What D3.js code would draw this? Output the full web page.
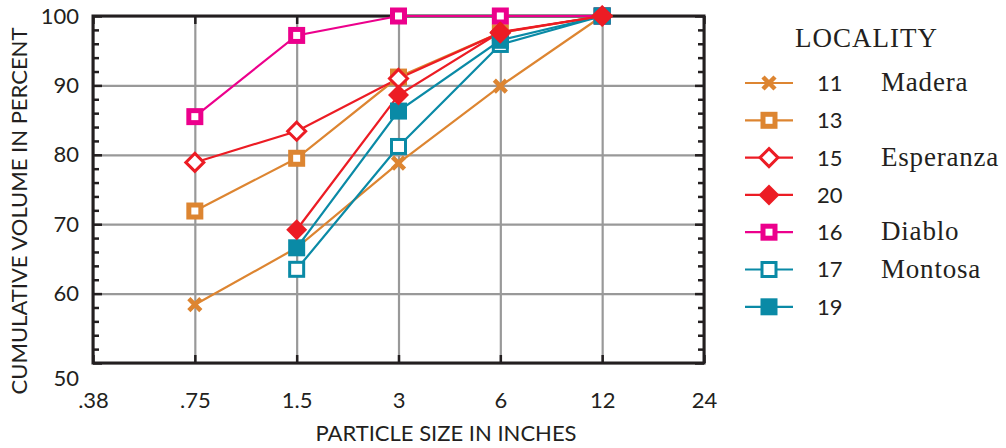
<!DOCTYPE html>
<html>
<head>
<meta charset="utf-8">
<script src="https://cdn.jsdelivr.net/npm/d3@7"></script>
<style>
  body { margin: 0; background: #fff; }
  svg { display: block; }
</style>
</head>
<body>
<div id="chart"></div>
<script>
// particle size categories (inches)
const sizes = [".38", ".75", "1.5", "3", "6", "12", "24"];
const yTicks = [50, 60, 70, 80, 90, 100];

// cumulative volume per locality, null = not measured
const loc11 = [null, 58.4, 66.6, 78.8, 89.9, 100, null];
const loc13 = [null, 71.9, 79.5, 91.2, 97.6, 100, null];
const loc15 = [null, 78.9, 83.4, 91.0, 97.6, 100, null];
const loc20 = [null, null, 69.2, 88.6, 97.7, 100, null];
const loc16 = [null, 85.5, 97.2, 100, 100, 100, null];
const loc17 = [null, null, 63.5, 81.2, 95.9, 100, null];
const loc19 = [null, null, 66.6, 86.3, 96.5, 100, null];

const series = [
  { id: "11", name: "Madera", values: loc11, color: "#dd8531", shape: "x" },
  { id: "13", name: "", values: loc13, color: "#dd8531", shape: "sqThick" },
  { id: "15", name: "Esperanza", values: loc15, color: "#ec1c24", shape: "diamondOpen" },
  { id: "20", name: "", values: loc20, color: "#ec1c24", shape: "diamondFill" },
  { id: "16", name: "Diablo", values: loc16, color: "#ec008c", shape: "sqThick" },
  { id: "17", name: "Montosa", values: loc17, color: "#0a8aa6", shape: "sqOpen" },
  { id: "19", name: "", values: loc19, color: "#0a8aa6", shape: "sqFill" }
];
// which sits on top
const drawOrder = ["11", "13", "16", "17", "19", "15", "20"];

const W = 1006, H = 448;
const margin = { top: 16, right: 302, bottom: 85, left: 93 };
const width = W - margin.left - margin.right,
  height = H - margin.top - margin.bottom;

const svg = d3.select("#chart").append("svg")
  .attr("width", W).attr("height", H);

const g = svg.append("g")
  .attr("transform", "translate(" + margin.left + "," + margin.top + ")");

const x = d3.scalePoint().domain(sizes).range([0, width]);
const y = d3.scaleLinear().domain([50, 100]).range([height, 0]);

const numFont = "Lato, 'Open Sans', sans-serif";
const serifFont = "'Liberation Serif', 'DejaVu Serif', serif";
const ink = "#231f20";

// grid
g.append("g")
  .call(d3.axisBottom(x).tickSize(height).tickFormat(""))
  .call(s => s.select(".domain").remove())
  .selectAll("line").attr("stroke", "#999").attr("stroke-width", 2.2);
g.append("g")
  .call(d3.axisLeft(y).tickValues(yTicks).tickSize(-width).tickFormat(""))
  .call(s => s.select(".domain").remove())
  .selectAll("line").attr("stroke", "#999").attr("stroke-width", 2.2);

// inward ticks on the frame
const minor = d3.range(50, 101, 2);
g.append("g")
  .call(d3.axisRight(y).tickValues(minor).tickSize(6).tickFormat(""))
  .call(s => s.select(".domain").remove())
  .selectAll("line").attr("stroke", ink).attr("stroke-width", 2.5)
  .attr("x2", d => d % 10 === 0 ? 9 : 6);
g.append("g")
  .attr("transform", "translate(" + width + ",0)")
  .call(d3.axisLeft(y).tickValues(minor).tickSize(6).tickFormat(""))
  .call(s => s.select(".domain").remove())
  .selectAll("line").attr("stroke", ink).attr("stroke-width", 2.5)
  .attr("x2", d => d % 10 === 0 ? -9 : -6);
g.append("g")
  .call(d3.axisBottom(x).tickSize(8).tickFormat(""))
  .call(s => s.select(".domain").remove())
  .selectAll("line").attr("stroke", ink).attr("stroke-width", 2.5);
g.append("g")
  .attr("transform", "translate(0," + height + ")")
  .call(d3.axisTop(x).tickSize(8).tickFormat(""))
  .call(s => s.select(".domain").remove())
  .selectAll("line").attr("stroke", ink).attr("stroke-width", 2.5);

g.append("rect")
  .attr("width", width).attr("height", height)
  .attr("fill", "none").attr("stroke", ink).attr("stroke-width", 3);

// tick labels
g.append("g")
  .attr("transform", "translate(0," + height + ")")
  .call(d3.axisBottom(x).tickSize(0).tickPadding(29))
  .call(s => s.select(".domain").remove())
  .selectAll("text")
  .attr("font-family", numFont).attr("font-size", 22).attr("fill", ink);

g.append("g")
  .call(d3.axisLeft(y).tickValues(yTicks).tickSize(0).tickPadding(14))
  .call(s => s.select(".domain").remove())
  .selectAll("text")
  .attr("font-family", numFont).attr("font-size", 22).attr("fill", ink)
  .attr("dy", d => d === 50 ? "1.0em" : "0.32em");

// axis titles
svg.append("text")
  .attr("x", 446).attr("y", 441)
  .attr("text-anchor", "middle")
  .attr("font-family", numFont).attr("font-size", 22)
  .attr("fill", ink)
  .text("PARTICLE SIZE IN INCHES");
svg.append("text")
  .attr("transform", "translate(27,211) rotate(-90)")
  .attr("text-anchor", "middle")
  .attr("font-family", numFont).attr("font-size", 22)
  .attr("fill", ink)
  .text("CUMULATIVE VOLUME IN PERCENT");

// marker drawing
function drawMarker(sel, shape, color) {
  if (shape === "x") {
    sel.append("path")
      .attr("d", "M-6,-6L6,6M-6,6L6,-6")
      .attr("stroke", color).attr("stroke-width", 4.5).attr("fill", "none");
  } else if (shape === "sqThick") {
    sel.append("rect").attr("x", -6).attr("y", -6).attr("width", 12).attr("height", 12)
      .attr("fill", "#fff").attr("stroke", color).attr("stroke-width", 5);
  } else if (shape === "sqOpen") {
    sel.append("rect").attr("x", -7).attr("y", -7).attr("width", 14).attr("height", 14)
      .attr("fill", "#fff").attr("stroke", color).attr("stroke-width", 3);
  } else if (shape === "sqFill") {
    sel.append("rect").attr("x", -8.5).attr("y", -8.5).attr("width", 17).attr("height", 17)
      .attr("fill", color);
  } else if (shape === "diamondOpen") {
    sel.append("path").attr("d", "M0,-9L9,0L0,9L-9,0Z")
      .attr("fill", "#fff").attr("stroke", color).attr("stroke-width", 3);
  } else if (shape === "diamondFill") {
    sel.append("path").attr("d", "M0,-10.5L10.5,0L0,10.5L-10.5,0Z")
      .attr("fill", color);
  }
}

const line = d3.line()
  .defined(d => d.v != null)
  .x(d => x(d.s))
  .y(d => y(d.v));

const ordered = drawOrder.map(id => series.find(s => s.id === id));

g.append("g").selectAll("path")
  .data(ordered)
  .enter().append("path")
  .attr("d", s => line(s.values.map((v, i) => ({ s: sizes[i], v: v }))))
  .attr("fill", "none")
  .attr("stroke", s => s.color)
  .attr("stroke-width", 2.2);

ordered.forEach(s => {
  s.values.forEach((v, i) => {
    if (v == null) return;
    const m = g.append("g")
      .attr("transform", "translate(" + x(sizes[i]) + "," + y(v) + ")");
    drawMarker(m, s.shape, s.color);
  });
});

// legend
const legend = svg.append("g").attr("transform", "translate(745,0)");
legend.append("text")
  .attr("x", 50).attr("y", 47)
  .attr("font-family", serifFont).attr("font-size", 27).attr("letter-spacing", 1)
  .attr("fill", ink)
  .text("LOCALITY");

const rows = legend.selectAll(".row")
  .data(series)
  .enter().append("g")
  .attr("class", "row")
  .attr("transform", (d, i) => "translate(0," + (83 + i * 37.3) + ")");

rows.append("line")
  .attr("x1", 0).attr("x2", 48)
  .attr("stroke", d => d.color).attr("stroke-width", 2.2);
rows.each(function (d) {
  const m = d3.select(this).append("g").attr("transform", "translate(24,0)");
  drawMarker(m, d.shape, d.color);
});
rows.append("text")
  .attr("x", 72).attr("dy", "0.36em")
  .attr("font-family", numFont).attr("font-size", 22).attr("fill", ink)
  .text(d => d.id);
rows.append("text")
  .attr("x", 136).attr("dy", "0.3em")
  .attr("font-family", serifFont).attr("font-size", 27).attr("letter-spacing", 0.8)
  .attr("fill", ink)
  .text(d => d.name);
</script>
</body>
</html>
